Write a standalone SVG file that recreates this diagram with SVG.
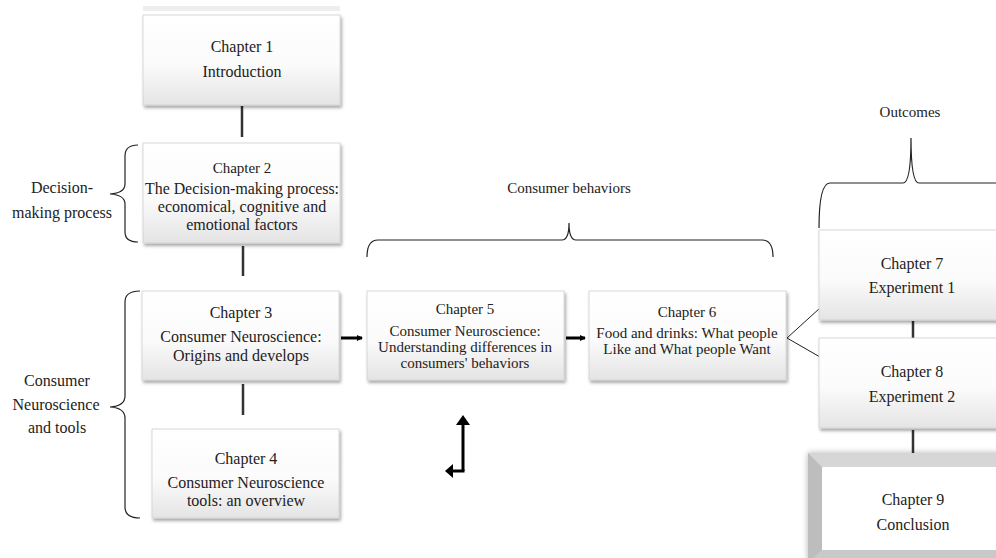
<svg xmlns="http://www.w3.org/2000/svg" width="996" height="558" viewBox="0 0 996 558">
<defs>
<linearGradient id="g" x1="0" y1="0" x2="0" y2="1">
<stop offset="0" stop-color="#ffffff"/>
<stop offset="0.55" stop-color="#fbfbfb"/>
<stop offset="1" stop-color="#e4e4e4"/>
</linearGradient>
<filter id="sh" x="-10%" y="-10%" width="130%" height="130%">
<feDropShadow dx="1.5" dy="2.5" stdDeviation="1.5" flood-color="#000" flood-opacity="0.35"/>
</filter>
<filter id="sh9" x="-10%" y="-10%" width="130%" height="130%">
<feDropShadow dx="0" dy="0" stdDeviation="3" flood-color="#000" flood-opacity="0.3"/>
</filter>
<marker id="ah" markerWidth="6" markerHeight="6" refX="5" refY="3" orient="auto" markerUnits="userSpaceOnUse">
<path d="M0,0 L6,3 L0,6 Z" fill="#000"/>
</marker>
</defs>
<style>
.box{fill:url(#g);stroke:#d0d0d0;stroke-width:0.8;filter:url(#sh)}
.t{font-family:"Liberation Serif","Times New Roman",serif;fill:#222;text-anchor:middle}
.f16{font-size:16px}
.f15{font-size:15px}
.ln{stroke:#333;stroke-width:2.5;fill:none}
.br{stroke:#222;stroke-width:1.2;fill:none}
.thin{stroke:#222;stroke-width:1;fill:none}
</style>

<g id="connectors">
<line class="ln" x1="242" y1="106" x2="242" y2="137"/>
<line class="ln" x1="243" y1="246" x2="243" y2="276"/>
<line class="ln" x1="243" y1="384" x2="243" y2="415"/>
<line x1="341" y1="338" x2="362" y2="338" stroke="#000" stroke-width="3" marker-end="url(#ah)"/>
<line x1="566" y1="338" x2="585" y2="338" stroke="#000" stroke-width="3" marker-end="url(#ah)"/>
<line class="thin" x1="787" y1="338" x2="820" y2="308"/>
<line class="thin" x1="787" y1="338" x2="820" y2="357"/>
<line class="ln" x1="913" y1="321" x2="913" y2="338"/>
<line class="ln" x1="913" y1="430" x2="913" y2="460"/>
</g>

<g id="braces">
<path class="br" d="M138,145 Q125,145 125,156 L125,184 Q125,193 110,194 Q125,195 125,204 L125,232 Q125,242 138,242"/>
<path class="br" d="M140,291 Q125,291 125,302 L125,396 Q125,406 110,407 Q125,408 125,418 L125,507 Q125,518 140,518"/>
<path class="br" d="M367,257 Q367,240 378,240 L562,240 Q569,240 569,223 Q569,240 576,240 L762,240 Q773,240 773,257"/>
<path class="br" d="M819,228 Q819,183 830,183 L903,183 Q911,183 911,138 Q911,183 919,183 L1000,183"/>
</g>

<g id="labels">
<text class="t f16" x="62" y="193">Decision-</text>
<text class="t f16" x="62" y="218">making process</text>
<text class="t f16" x="57" y="386">Consumer</text>
<text class="t f16" x="56" y="410">Neuroscience</text>
<text class="t f16" x="57" y="433">and tools</text>
<text class="t f15" x="569" y="193">Consumer behaviors</text>
<text class="t f15" x="910" y="117">Outcomes</text>
</g>

<g id="ch1">
<rect x="143" y="6" width="197" height="5" fill="#eeeeee"/>
<rect class="box" x="143" y="15" width="197" height="90"/>
<text class="t f16" x="242" y="52">Chapter 1</text>
<text class="t f16" x="242" y="77">Introduction</text>
</g>
<g id="ch2">
<rect class="box" x="143" y="143" width="197" height="100"/>
<text class="t f15" x="242" y="173">Chapter 2</text>
<text class="t f16" x="242" y="194" textLength="194" lengthAdjust="spacingAndGlyphs">The Decision-making process:</text>
<text class="t f16" x="242" y="212">economical, cognitive and</text>
<text class="t f16" x="242" y="230">emotional factors</text>
</g>
<g id="ch3">
<rect class="box" x="142" y="291" width="197" height="89"/>
<text class="t f16" x="241" y="318">Chapter 3</text>
<text class="t f16" x="241" y="342">Consumer Neuroscience:</text>
<text class="t f16" x="241" y="361">Origins and develops</text>
</g>
<g id="ch4">
<rect class="box" x="152" y="429" width="187" height="89"/>
<text class="t f16" x="246" y="464">Chapter 4</text>
<text class="t f16" x="246" y="488">Consumer Neuroscience</text>
<text class="t f16" x="246" y="506">tools:  an overview</text>
</g>
<g id="ch5">
<rect class="box" x="367" y="291" width="197" height="89"/>
<text class="t f15" x="465" y="314">Chapter 5</text>
<text class="t f15" x="465" y="336">Consumer Neuroscience:</text>
<text class="t f15" x="465" y="352">Understanding differences in</text>
<text class="t f15" x="465" y="368">consumers' behaviors</text>
</g>
<g id="ch6">
<rect class="box" x="589" y="291" width="197" height="89"/>
<text class="t f15" x="687" y="317">Chapter 6</text>
<text class="t f15" x="687" y="338">Food and drinks: What people</text>
<text class="t f15" x="687" y="354">Like and What people Want</text>
</g>
<g id="ch7">
<rect class="box" x="819" y="230" width="190" height="90"/>
<text class="t f16" x="912" y="269">Chapter 7</text>
<text class="t f16" x="912" y="293">Experiment 1</text>
</g>
<g id="arrow">
<path d="M463,471 L463,424" stroke="#000" stroke-width="3" fill="none"/>
<path d="M456,425 L463,415 L470,425 Z" fill="#000"/>
<path d="M464.5,471 L452,471" stroke="#000" stroke-width="3" fill="none"/>
<path d="M453,464 L445,471 L453,478 Z" fill="#000"/>
</g>
<g id="ch8">
<rect class="box" x="819" y="338" width="190" height="90"/>
<text class="t f16" x="912" y="377">Chapter 8</text>
<text class="t f16" x="912" y="402">Experiment 2</text>
</g>
<g id="ch9">
<rect x="808" y="453" width="200" height="110" fill="#c4c4c4" filter="url(#sh9)"/>
<polygon points="808,453 1008,453 1008,467 822,467 822,563 808,563" fill="#d6d6d6"/>
<polygon points="808,453 822,467 822,563 808,563" fill="#bdbdbd"/>
<polygon points="822,550 1008,550 1008,563 808,563" fill="#c9c9c9"/>
<rect x="822" y="467" width="186" height="83" fill="#ffffff"/>
<text class="t f16" x="913" y="505">Chapter 9</text>
<text class="t f16" x="913" y="530">Conclusion</text>
</g>
</svg>
